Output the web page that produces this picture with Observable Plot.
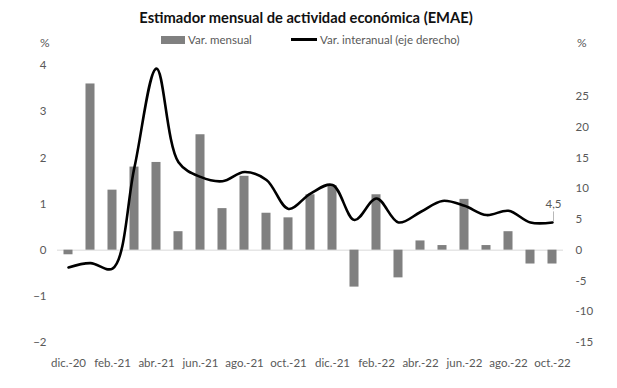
<!DOCTYPE html>
<html>
<head>
<meta charset="utf-8">
<script src="https://cdn.jsdelivr.net/npm/d3@7"></script>
<script src="https://cdn.jsdelivr.net/npm/@observablehq/plot@0.6"></script>
<style>
  html, body { margin: 0; padding: 0; background: #fff; }
  #wrap { position: relative; width: 617px; height: 388px; font-family: Lato, "Open Sans", sans-serif; color: #595959; }
  #title { position: absolute; left: 0; width: 612px; top: 8px; text-align: center; font-weight: bold; font-size: 14.7px; color: #111; }
  .pct { position: absolute; top: 35px; font-size: 12px; }
  .leg { position: absolute; top: 33px; font-size: 11.5px; display: flex; align-items: center; }
  .sw { display: inline-block; margin-right: 3px; }
  #chart { position: absolute; left: 0; top: 37px; }
</style>
</head>
<body>
<div id="wrap">
  <div id="title">Estimador mensual de actividad económica (EMAE)</div>
  <div class="pct" style="left:40px">%</div>
  <div class="pct" style="left:577px">%</div>
  <div class="leg" style="left:161px"><span class="sw" style="width:24px;height:8px;background:#808080"></span>Var. mensual</div>
  <div class="leg" style="left:291px"><span class="sw" style="width:26px;height:2.5px;background:#000"></span>Var. interanual (eje derecho)</div>
  <div id="chart"></div>
</div>
<script>
const months = ["dic.-20","ene.-21","feb.-21","mar.-21","abr.-21","may.-21","jun.-21","jul.-21","ago.-21","sep.-21","oct.-21","nov.-21","dic.-21","ene.-22","feb.-22","mar.-22","abr.-22","may.-22","jun.-22","jul.-22","ago.-22","sep.-22","oct.-22"];
const varMensual = [-0.1, 3.6, 1.3, 1.8, 1.9, 0.4, 2.5, 0.9, 1.6, 0.8, 0.7, 1.2, 1.4, -0.8, 1.2, -0.6, 0.2, 0.1, 1.1, 0.1, 0.4, -0.3, -0.3];
const varInteranual = [-2.8, -2.1, -3.0, 13.5, 29.5, 14.3, 11.9, 11.2, 12.7, 11.4, 6.7, 9.2, 10.6, 4.9, 8.4, 4.5, 6.2, 8.0, 7.2, 5.7, 6.4, 4.5, 4.5];
const xTicks = ["dic.-20","feb.-21","abr.-21","jun.-21","ago.-21","oct.-21","dic.-21","feb.-22","abr.-22","jun.-22","ago.-22","oct.-22"];
const leftTicks = [-2, -1, 0, 1, 2, 3, 4];
const rightTicks = [-15, -10, -5, 0, 5, 10, 15, 20, 25];
const ratio = 7.5; // right axis / left axis
const lastLabel = "4,5";

const bars = months.map((m, i) => ({m, v: varMensual[i]}));
const line = months.map((m, i) => ({m, v: varInteranual[i] / ratio}));
const last = line[line.length - 1];

const chart = Plot.plot({
  width: 617,
  height: 351,
  marginTop: 28,
  marginBottom: 46,
  marginLeft: 57,
  marginRight: 54,
  style: {fontFamily: "Lato, 'Open Sans', sans-serif", fontSize: "11.5px", color: "#595959", background: "transparent"},
  x: {type: "band", domain: months, paddingInner: 0.59, paddingOuter: 0.295, round: false},
  y: {domain: [-2, 4]},
  marks: [
    Plot.ruleY([0], {stroke: "#d9d9d9", strokeWidth: 1}),
    Plot.barY(bars, {x: "m", y: "v", fill: "#808080"}),
    Plot.line(line, {x: "m", y: "v", curve: "catmull-rom", stroke: "#000", strokeWidth: 2.6}),
    Plot.link([last], {x1: "m", x2: "m", y1: d => d.v + 0.03, y2: d => d.v + 0.24, stroke: "#a6a6a6", strokeWidth: 0.8, dx: 1}),
    Plot.text([last], {x: "m", y: "v", text: () => lastLabel, dy: -18, dx: 1, fill: "#595959", fontSize: 11.5}),
    Plot.axisX({ticks: xTicks, tickSize: 0, tickPadding: 16, label: null, anchor: "bottom"}),
    Plot.axisY(leftTicks, {anchor: "left", tickSize: 0, tickPadding: 11, label: null, fontSize: 11.5}),
    Plot.axisY(rightTicks.map(t => t / ratio), {anchor: "right", tickSize: 0, tickPadding: 12, label: null, tickFormat: d => String(Math.round(d * ratio)), fontSize: 11.5})
  ]
});
document.getElementById("chart").appendChild(chart);
</script>
</body>
</html>
